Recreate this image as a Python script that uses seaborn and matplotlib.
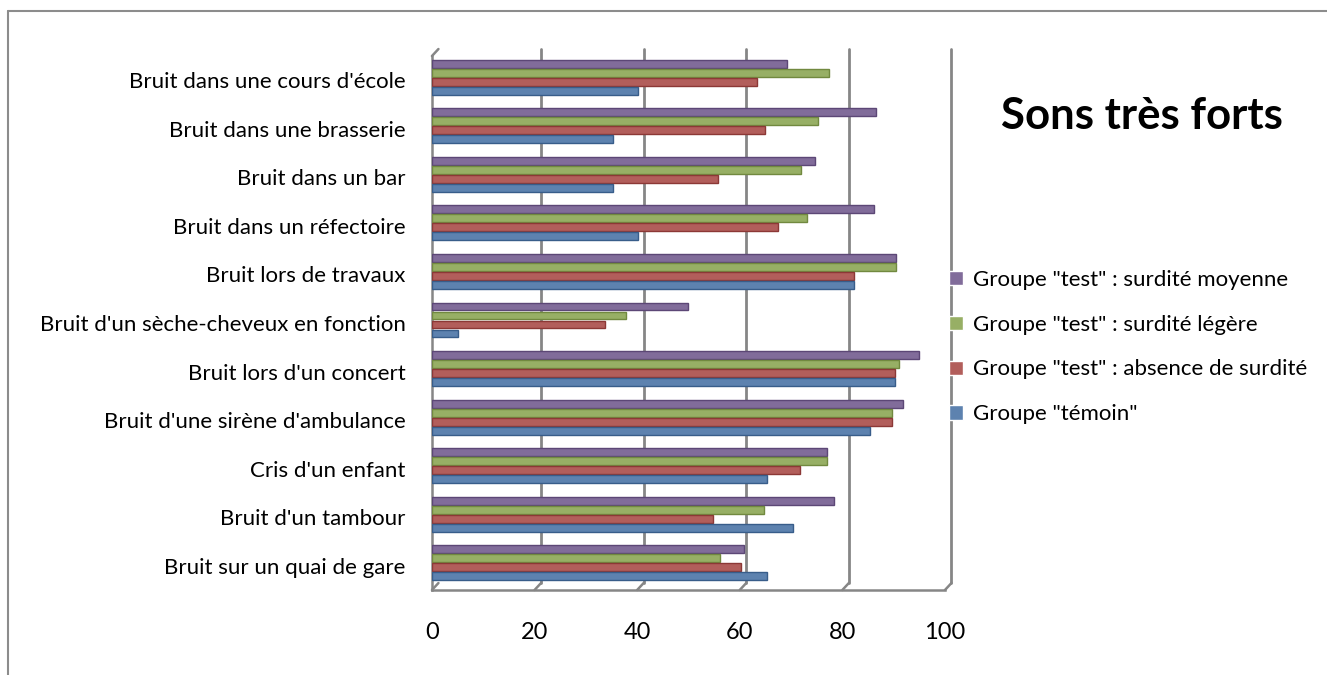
import numpy as np
import pandas as pd
import matplotlib.pyplot as plt
import seaborn as sns
from matplotlib.lines import Line2D
from matplotlib.transforms import ScaledTranslation

# sources de bruit, de haut en bas
bruits = [
    "Bruit dans une cours d'école",
    "Bruit dans une brasserie",
    "Bruit dans un bar",
    "Bruit dans un réfectoire",
    "Bruit lors de travaux",
    "Bruit d'un sèche-cheveux en fonction",
    "Bruit lors d'un concert",
    "Bruit d'une sirène d'ambulance",
    "Cris d'un enfant",
    "Bruit d'un tambour",
    "Bruit sur un quai de gare",
]

moyenne = [69.2, 86.6, 74.7, 86.1, 90.4, 49.9, 95.0, 91.8, 77.1, 78.4, 60.8]
legere = [77.4, 75.2, 71.9, 73.1, 90.4, 37.9, 91.1, 89.6, 77.0, 64.7, 56.2]
absence = [63.3, 64.9, 55.7, 67.4, 82.3, 33.8, 90.3, 89.6, 71.7, 54.8, 60.3]
temoin = [40.1, 35.2, 35.2, 40.1, 82.3, 5.1, 90.3, 85.3, 65.3, 70.3, 65.3]

groupes = [
    'Groupe "test" : surdité moyenne',
    'Groupe "test" : surdité légère',
    'Groupe "test" : absence de surdité',
    'Groupe "témoin"',
]
couleurs = ["#8064A2", "#9BBB59", "#C0504D", "#4F81BD"]
bords = ["#5C4776", "#71893F", "#8C3836", "#385D8A"]
gris = "#868686"

df = pd.DataFrame({"bruit": bruits, groupes[0]: moyenne, groupes[1]: legere,
                   groupes[2]: absence, groupes[3]: temoin})
df = df.melt(id_vars="bruit", var_name="groupe", value_name="valeur")

sns.set_style("white")
plt.rcParams["font.family"] = ["Lato", "DejaVu Sans"]
plt.rcParams["text.color"] = "black"
plt.rcParams["xtick.labelcolor"] = "black"
plt.rcParams["ytick.labelcolor"] = "black"

fig = plt.figure(figsize=(13.27, 6.75), dpi=100)
ax = fig.add_axes([0.3255, 0.1259, 0.3866, 0.7911])

sns.barplot(data=df, y="bruit", x="valeur", hue="groupe", hue_order=groupes,
            palette=couleurs, width=0.74, orient="h", ax=ax, legend=True)

for cont, ec in zip(ax.containers, bords):
    for bar in cont:
        h = bar.get_height()
        bar.set_height(h * 0.88)
        bar.set_y(bar.get_y() + h * 0.06 - 0.062)
        bar.set_edgecolor(ec)
        bar.set_linewidth(1.0)
        bar.set_zorder(3)

handles, labels = ax.get_legend_handles_labels()
ax.get_legend().remove()
fig.legend(handles, labels, loc="center left", bbox_to_anchor=(0.7155, 0.486),
           frameon=False, fontsize=16, handlelength=0.6, handleheight=0.6,
           handletextpad=0.45, labelspacing=1.12, borderpad=0, borderaxespad=0)

ax.set_xlim(0, 100)
ax.set_ylim(len(bruits) - 0.5, -0.5)
ax.set_xlabel("")
ax.set_ylabel("")
ax.set_xticks(np.arange(0, 101, 20))
ax.tick_params(axis="x", labelsize=17, length=5.5, width=1.5, color=gris, pad=17.5)
ax.set_yticks(np.arange(len(bruits)), labels=bruits, minor=True)
ax.set_yticks(np.arange(-0.5, len(bruits), 1))
ax.set_yticklabels([])
ax.tick_params(axis="y", which="minor", length=0, labelsize=16, pad=19)
ax.tick_params(axis="y", which="major", length=4.5, width=1.5, color=gris)
ax.grid(False)

sns.despine(ax=ax)
for s in ["left", "bottom"]:
    ax.spines[s].set_color(gris)
    ax.spines[s].set_linewidth(1.8)

# paroi du fond en perspective
decal = ax.get_xaxis_transform() + ScaledTranslation(0.065, 0.07, fig.dpi_scale_trans)
for v in np.arange(20, 101, 20):
    ax.plot([v, v], [0, 1], transform=decal, color=gris, lw=2, zorder=1, clip_on=False)
for v in np.arange(0, 101, 20):
    ax.annotate("", xy=(v, 0), xycoords=ax.get_xaxis_transform(),
                xytext=(6.5, 7), textcoords="offset pixels",
                arrowprops=dict(arrowstyle="-", color=gris, lw=1.8, shrinkA=0, shrinkB=0))
ax.annotate("", xy=(0, 1), xycoords=ax.get_xaxis_transform(),
            xytext=(6.5, 7), textcoords="offset pixels",
            arrowprops=dict(arrowstyle="-", color=gris, lw=1.8, shrinkA=0, shrinkB=0))

fig.text(0.8604, 0.828, "Sons très forts", ha="center", va="center",
         fontsize=31.5, fontweight="bold", color="black")

# cadre du graphique
fig.add_artist(Line2D([8 / 1327, 1], [1 - 11 / 675] * 2, color="#8c8c8c", lw=1.5))
fig.add_artist(Line2D([8 / 1327] * 2, [0, 1 - 11 / 675], color="#8c8c8c", lw=1.5))

fig.savefig("out.png", dpi=100)
